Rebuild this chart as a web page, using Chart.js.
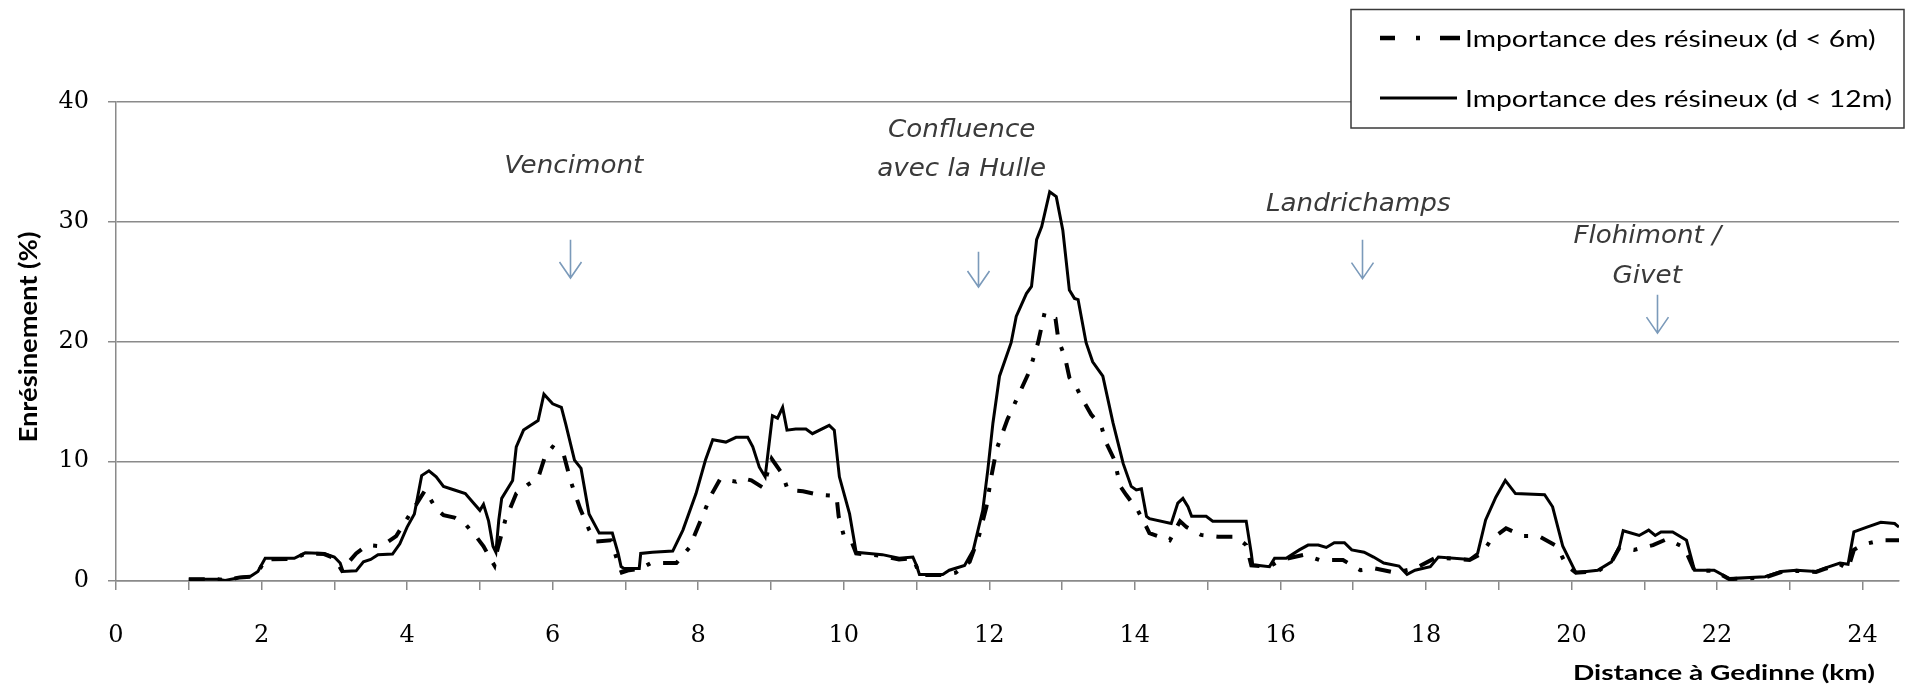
<!DOCTYPE html>
<html>
<head>
<meta charset="utf-8">
<script src="https://cdn.jsdelivr.net/npm/chart.js@4.4.1/dist/chart.umd.min.js"></script>
<style>
  html, body { margin: 0; padding: 0; background: #ffffff; }
  #wrap { width: 1916px; height: 696px; position: relative; }
</style>
</head>
<body>
<div id="wrap"><canvas id="c" width="1916" height="696"></canvas></div>
<script>
// Distance from Gedinne (km) and share of conifers (%) within 12 m of the river
const km12 = [1.0, 1.4, 1.5, 1.7, 1.85, 1.95, 2.05, 2.45, 2.6, 2.86, 3.0, 3.08, 3.12, 3.3, 3.4, 3.5, 3.6, 3.8, 3.9, 4.0,
  4.1, 4.2, 4.3, 4.4, 4.5, 4.65, 4.8, 4.9, 5.0, 5.05, 5.12, 5.18, 5.22, 5.26, 5.3, 5.45, 5.5, 5.6, 5.8, 5.88,
  6.0, 6.12, 6.18, 6.3, 6.39, 6.5, 6.64, 6.82, 6.9, 6.94, 6.98, 7.19, 7.21, 7.37, 7.65, 7.79, 7.97, 8.1, 8.2, 8.38,
  8.52, 8.68, 8.75, 8.84, 8.92, 9.02, 9.09, 9.16, 9.22, 9.34, 9.48, 9.57, 9.8, 9.87, 9.94, 10.08, 10.17, 10.35, 10.53, 10.76,
  10.95, 11.0, 11.04, 11.36, 11.45, 11.66, 11.78, 11.91, 11.98, 12.05, 12.14, 12.3, 12.37, 12.51, 12.58, 12.65, 12.72, 12.83, 12.92, 13.01,
  13.1, 13.17, 13.22, 13.33, 13.42, 13.56, 13.7, 13.84, 13.95, 14.02, 14.09, 14.16, 14.2, 14.5, 14.59, 14.66, 14.73, 14.78, 14.98, 15.07,
  15.53, 15.6, 15.62, 15.85, 15.92, 16.08, 16.26, 16.38, 16.52, 16.63, 16.74, 16.88, 16.98, 17.15, 17.28, 17.42, 17.63, 17.74, 17.85, 18.06,
  18.17, 18.6, 18.71, 18.82, 18.96, 19.09, 19.23, 19.63, 19.74, 19.88, 20.06, 20.36, 20.55, 20.66, 20.71, 20.93, 21.06, 21.15, 21.23, 21.39,
  21.58, 21.69, 21.96, 22.17, 22.66, 22.88, 23.09, 23.36, 23.47, 23.69, 23.8, 23.88, 24.06, 24.25, 24.44, 24.5];
const val12 = [0.15, 0.15, 0.05, 0.3, 0.4, 0.8, 1.9, 1.9, 2.35, 2.3, 2.0, 1.5, 0.8, 0.85, 1.6, 1.8, 2.2, 2.25, 3.1, 4.5,
  5.6, 8.8, 9.2, 8.7, 7.9, 7.6, 7.3, 6.6, 5.9, 6.4, 5.0, 2.9, 2.4, 5.1, 6.9, 8.4, 11.2, 12.6, 13.4, 15.6,
  14.8, 14.5, 13.1, 10.1, 9.4, 5.6, 4.0, 4.0, 2.3, 1.2, 1.05, 1.05, 2.3, 2.4, 2.5, 4.25, 7.3, 10.1, 11.8, 11.6,
  12.0, 12.0, 11.2, 9.5, 8.7, 13.8, 13.6, 14.5, 12.6, 12.7, 12.7, 12.3, 13.0, 12.6, 8.7, 5.6, 2.4, 2.3, 2.2, 1.9,
  2.0, 1.3, 0.55, 0.55, 0.9, 1.3, 2.6, 5.9, 9.3, 13.2, 17.1, 19.9, 22.1, 24.0, 24.6, 28.5, 29.6, 32.5, 32.1, 29.3,
  24.3, 23.6, 23.5, 19.9, 18.3, 17.1, 13.2, 9.8, 7.9, 7.6, 7.7, 5.4, 5.2, 4.8, 6.5, 6.9, 6.2, 5.4, 5.4, 5.0,
  5.0, 2.3, 1.35, 1.2, 1.9, 1.9, 2.6, 3.0, 3.0, 2.8, 3.2, 3.2, 2.6, 2.4, 2.0, 1.5, 1.25, 0.55, 0.9, 1.2,
  2.0, 1.8, 2.3, 5.1, 7.0, 8.4, 7.3, 7.2, 6.2, 2.9, 0.7, 0.9, 1.6, 2.9, 4.2, 3.8, 4.25, 3.8, 4.1, 4.1,
  3.4, 0.9, 0.9, 0.2, 0.36, 0.8, 0.9, 0.8, 1.05, 1.5, 1.4, 4.1, 4.5, 4.9, 4.8, 4.5];

// Same profile for conifers within 6 m of the river
const km6 = [1.0, 1.4, 1.5, 1.7, 1.85, 1.95, 2.05, 2.45, 2.6, 2.86, 3.0, 3.1, 3.3, 3.45, 3.65, 3.85, 4.0, 4.25, 4.4, 4.5,
  4.65, 4.8, 4.95, 5.05, 5.15, 5.2, 5.24, 5.35, 5.5, 5.65, 5.8, 5.9, 6.0, 6.15, 6.25, 6.38, 6.5, 6.6, 6.8, 6.9,
  6.95, 7.05, 7.2, 7.35, 7.7, 7.88, 8.03, 8.18, 8.3, 8.52, 8.6, 8.73, 8.89, 9.01, 9.16, 9.23, 9.44, 9.66, 9.9, 9.93,
  10.0, 10.1, 10.17, 10.35, 10.53, 10.76, 10.95, 11.0, 11.04, 11.36, 11.54, 11.73, 11.86, 11.96, 12.03, 12.1, 12.25, 12.4, 12.55, 12.67,
  12.76, 12.85, 12.91, 12.95, 13.04, 13.1, 13.17, 13.26, 13.4, 13.54, 13.61, 13.72, 13.8, 13.88, 14.04, 14.16, 14.2, 14.48, 14.62, 14.71,
  14.91, 15.14, 15.39, 15.53, 15.6, 15.85, 16.0, 16.33, 16.54, 16.86, 17.1, 17.3, 17.58, 17.85, 18.12, 18.17, 18.6, 18.77, 18.9, 19.1,
  19.33, 19.55, 19.8, 19.93, 20.06, 20.36, 20.55, 20.66, 20.86, 21.12, 21.31, 21.55, 21.69, 21.96, 22.17, 22.66, 22.88, 23.09, 23.36, 23.47,
  23.69, 23.8, 23.88, 24.01, 24.25, 24.5];
const val6 = [0.15, 0.15, 0.05, 0.3, 0.35, 0.7, 1.8, 1.85, 2.3, 2.25, 1.9, 0.9, 2.3, 3.0, 2.9, 3.75, 5.2, 7.6, 6.0, 5.5,
  5.3, 4.75, 3.7, 2.9, 1.8, 1.3, 2.6, 5.1, 7.3, 8.0, 8.6, 10.5, 11.2, 10.6, 8.3, 6.0, 4.3, 3.3, 3.4, 1.5,
  0.7, 0.9, 1.0, 1.5, 1.5, 2.8, 5.0, 7.2, 8.5, 8.3, 8.6, 8.4, 7.8, 10.2, 8.9, 7.6, 7.5, 7.2, 7.1, 5.4,
  3.8, 3.4, 2.3, 2.2, 2.1, 1.8, 1.9, 1.2, 0.5, 0.5, 0.7, 1.6, 3.8, 6.2, 8.8, 11.0, 13.5, 15.5, 17.5, 19.9,
  22.4, 22.0, 21.9, 20.1, 18.7, 17.0, 16.5, 15.4, 13.9, 12.9, 11.5, 10.1, 7.9, 7.2, 5.9, 4.5, 4.0, 3.4, 5.0, 4.5,
  3.85, 3.7, 3.7, 3.0, 1.3, 1.2, 1.75, 2.2, 1.75, 1.75, 0.9, 1.05, 0.7, 1.05, 1.9, 1.95, 1.75, 2.3, 3.5, 4.4,
  3.75, 3.75, 2.9, 1.3, 0.7, 0.8, 1.6, 2.8, 2.6, 3.0, 3.5, 2.8, 0.85, 0.85, 0.15, 0.3, 0.75, 0.85, 0.75, 1.0,
  1.4, 1.0, 2.6, 3.05, 3.4, 3.4];

const seriesNames = ['Importance des résineux (d < 6m)', 'Importance des résineux (d < 12m)'];
const xTitle = 'Distance à Gedinne (km)';
const yTitle = 'Enrésinement (%)';

// Place names along the river, placed in data units (km, %); textY are text baselines
const places = [
  { lines: ['Vencimont'], textKm: 6.29, textY: [34.07], arrowKm: 6.24, arrowTop: 28.5, arrowTip: 25.3 },
  { lines: ['Confluence', 'avec la Hulle'], textKm: 11.62, textY: [37.08, 33.82], arrowKm: 11.84, arrowTop: 27.5, arrowTip: 24.55 },
  { lines: ['Landrichamps'], textKm: 17.07, textY: [30.9], arrowKm: 17.12, arrowTop: 28.5, arrowTip: 25.25 },
  { lines: ['Flohimont /', 'Givet'], textKm: 21.04, textY: [28.23, 24.88], arrowKm: 21.17, arrowTop: 23.9, arrowTip: 20.7 }
];

const pts = (xs, ys) => xs.map((x, i) => ({ x: x, y: ys[i] }));

// Draws text squeezed/stretched horizontally to a given width
function fitText(ctx, text, x, y, width, align) {
  const w = ctx.measureText(text).width;
  const sx = width / w;
  ctx.save();
  ctx.translate(x, y);
  ctx.scale(sx, 1);
  ctx.textAlign = align;
  ctx.fillText(text, 0, 0);
  ctx.restore();
}

const decorations = {
  id: 'decorations',
  afterDraw(chart) {
    const ctx = chart.ctx;
    const xs = chart.scales.x, ys = chart.scales.y;

    // place labels and arrows
    places.forEach(p => {
      ctx.save();
      ctx.fillStyle = '#3a3a3a';
      ctx.font = 'italic 24px "DejaVu Sans"';
      ctx.textBaseline = 'alphabetic';
      const tx = xs.getPixelForValue(p.textKm);
      p.lines.forEach((t, i) => {
        const w = ctx.measureText(t).width * 1.09;
        fitText(ctx, t, tx, ys.getPixelForValue(p.textY[i]), w, 'center');
      });
      const ax = Math.round(xs.getPixelForValue(p.arrowKm)) + 0.5;
      const top = ys.getPixelForValue(p.arrowTop);
      const tip = ys.getPixelForValue(p.arrowTip);
      ctx.strokeStyle = '#7b9aba';
      ctx.lineWidth = 1.6;
      ctx.beginPath();
      ctx.moveTo(ax, top);
      ctx.lineTo(ax, tip);
      ctx.moveTo(ax - 11, tip - 16);
      ctx.lineTo(ax, tip);
      ctx.lineTo(ax + 11, tip - 16);
      ctx.stroke();
      ctx.restore();
    });

    // legend box
    ctx.save();
    ctx.fillStyle = '#ffffff';
    ctx.fillRect(1351, 9.5, 553, 118.5);
    ctx.strokeStyle = '#3a3a3a';
    ctx.lineWidth = 1.5;
    ctx.strokeRect(1351, 9.5, 553, 118.5);

    ctx.strokeStyle = '#000000';
    ctx.lineCap = 'butt';
    ctx.lineWidth = 4.5;
    ctx.beginPath();
    ctx.moveTo(1380, 38); ctx.lineTo(1395, 38);
    ctx.moveTo(1416, 38); ctx.lineTo(1420, 38);
    ctx.moveTo(1440, 38); ctx.lineTo(1460, 38);
    ctx.stroke();
    ctx.lineWidth = 3;
    ctx.beginPath();
    ctx.moveTo(1380, 98); ctx.lineTo(1457, 98);
    ctx.stroke();

    ctx.fillStyle = '#000000';
    ctx.font = '24px Lato';
    ctx.textBaseline = 'alphabetic';
    const ratio = 427 / ctx.measureText(seriesNames[1]).width;
    fitText(ctx, seriesNames[0], 1465, 47, ctx.measureText(seriesNames[0]).width * ratio, 'left');
    fitText(ctx, seriesNames[1], 1465, 107, 427, 'left');

    // axis titles
    ctx.font = 'bold 21px Lato';
    fitText(ctx, xTitle, 1875, 680, 302, 'right');
    ctx.font = 'bold 24px Lato';
    ctx.textBaseline = 'middle';
    ctx.translate(29, 337);
    ctx.rotate(-Math.PI / 2);
    fitText(ctx, yTitle, 0, 0, 211, 'center');
    ctx.restore();
  }
};

const gridColor = '#8a8a8a';

new Chart(document.getElementById('c'), {
  type: 'line',
  data: {
    datasets: [
      {
        label: seriesNames[0],
        data: pts(km6, val6),
        borderColor: '#000000',
        borderWidth: 4,
        borderDash: [16, 13, 4, 13],
        borderCapStyle: 'butt',
        pointRadius: 0,
        tension: 0,
        fill: false
      },
      {
        label: seriesNames[1],
        data: pts(km12, val12),
        borderColor: '#000000',
        borderWidth: 3,
        pointRadius: 0,
        tension: 0,
        fill: false
      }
    ]
  },
  options: {
    responsive: false,
    devicePixelRatio: 1,
    animation: false,
    events: [],
    layout: { padding: { top: 102, right: 17, bottom: 0, left: 0 } },
    plugins: { legend: { display: false }, tooltip: { enabled: false } },
    scales: {
      x: {
        type: 'linear',
        min: 0,
        max: 24.5,
        afterFit(scale) { scale.height = 115; },
        border: { display: true, color: gridColor, width: 1.5 },
        grid: { display: true, drawOnChartArea: false, drawTicks: true, tickLength: 9, color: gridColor, lineWidth: 1.5 },
        ticks: {
          stepSize: 1,
          includeBounds: false,
          autoSkip: false,
          maxRotation: 0,
          padding: 31,
          color: '#000000',
          font: { family: '"DejaVu Serif"', size: 24 },
          callback: (v) => (v % 2 === 0 ? String(v) : '')
        }
      },
      y: {
        min: 0,
        max: 40,
        afterFit(scale) { scale.width = 116; },
        border: { display: true, color: gridColor, width: 1.5 },
        grid: { color: gridColor, lineWidth: 1.5, tickLength: 8 },
        ticks: {
          stepSize: 10,
          padding: 19,
          color: '#000000',
          font: { family: '"DejaVu Serif"', size: 24 }
        }
      }
    }
  },
  plugins: [decorations]
});
</script>
</body>
</html>
